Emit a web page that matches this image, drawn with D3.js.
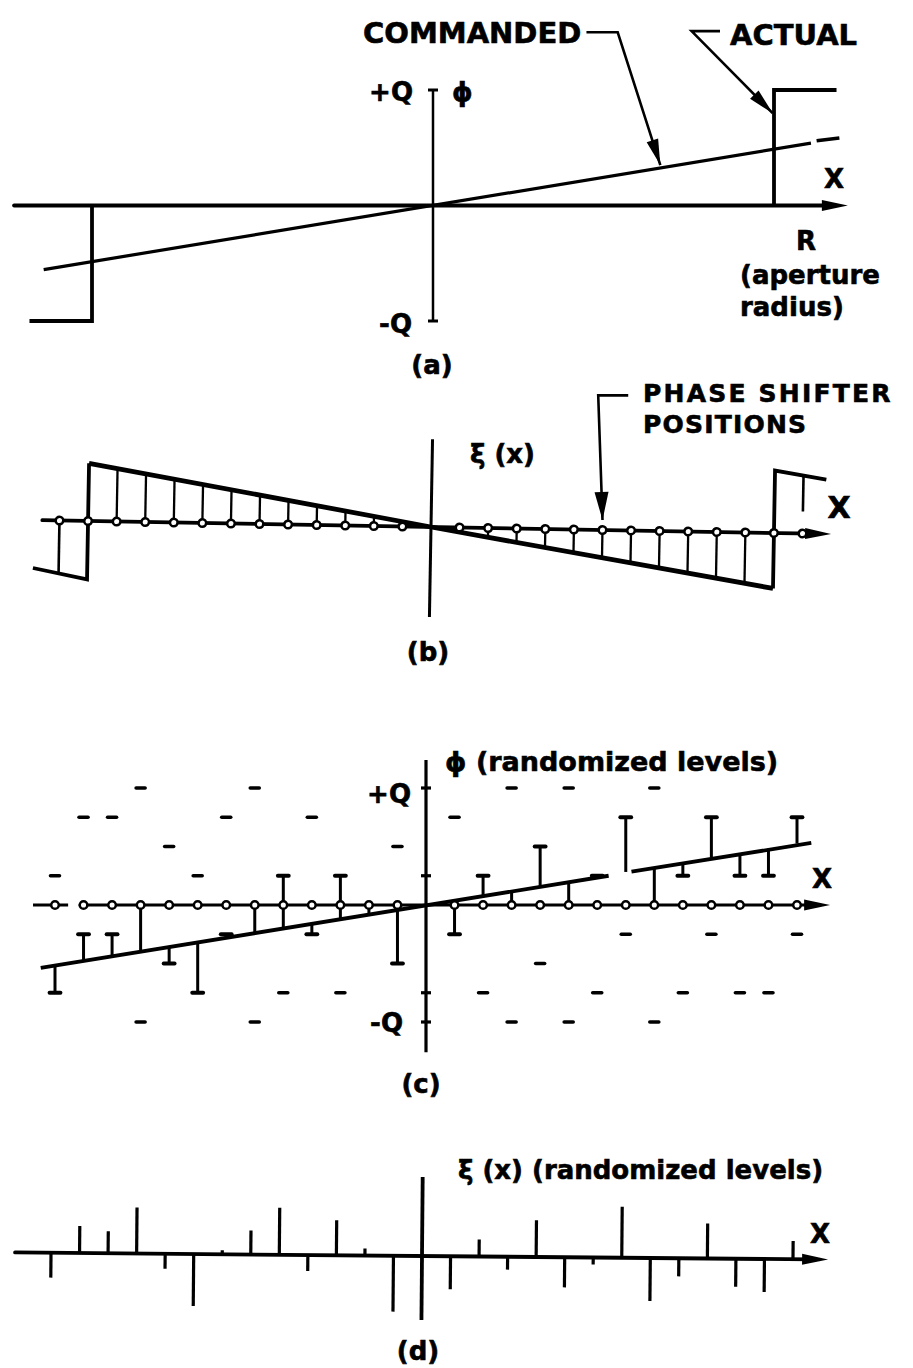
<!DOCTYPE html>
<html>
<head>
<meta charset="utf-8">
<script src="https://cdn.jsdelivr.net/npm/d3@7"></script>
<style>
  body { margin: 0; background: #fff; }
  text { font-family: "DejaVu Sans", sans-serif; font-weight: bold; fill: #000; stroke: #000; stroke-width: 0.6px; }
</style>
</head>
<body>
<div id="chart"></div>
<script>
const width = 913, height = 1368;

// element positions in units of element spacing (aperture radius R = 12)
const positions = [-13,-12,-11,-10,-9,-8,-7,-6,-5,-4,-3,-2,-1,1,2,3,4,5,6,7,8,9,10,11,12,13];

// (a) phase, units of Q
const axisA = [-14.74, 14.6];
const commandedA = [[-13.7, -0.555], [13.3, 0.54]];
const commandedTailA = [[13.5, 0.56], [14.3, 0.585]];
const actualLeftA = [[-14.2, -1], [-12, -1], [-12, 0]];
const actualRightA = [[12, 0], [12, 1], [14.2, 1]];
const commandedLeader = [[5.4, 1.5], [6.5, 1.5], [8.0, 0.35]];
const actualLeader = [[10.1, 1.51], [9.1, 1.51], [11.95, 0.8]];

// (b) xi(x) = actual - commanded, units of Q
const axisB = [-13.6, 14.0];
const errorLineB = [[-12, 0.5], [0, 0], [12, -0.48]];
const edgeLeftB = [[-13.9, -0.415], [-12, -0.505], [-12, 0.5]];
const edgeRightB = [[12, -0.48], [12, 0.54], [13.8, 0.47]];
const hatchPosB = [-11,-10,-9,-8,-7,-6,-5,-4,-3,-2,-1,1,2,3,4,5,6,7,8,9,10,11];
const hatchTopB = [0.45,0.41,0.37,0.33,0.29,0.25,0.2,0.16,0.12,0.08,0.04,
                   -0.04,-0.08,-0.12,-0.16,-0.2,-0.24,-0.28,-0.32,-0.36,-0.4,-0.44];
const edgeBarsB = [[-13, 0, -0.45], [13, 0.5, 0.19]];
const shifterLeader = [[6.9, 1.14], [5.85, 1.14], [6.0, 0.06]];

// (c) phase levels, units of Q/4
const axisC = [[-13.77, -12.54], [-12.12, 14.16]];
const commandedC = [[[-13.5, -2.15], [6.4, 1.0]], [[7.2, 1.14], [13.5, 2.12]]];
const commandedAtC = [-2.1,-1.93,-1.77,-1.62,-1.45,-1.3,-1.13,-0.97,-0.82,-0.65,-0.5,-0.33,-0.17,
                      0.17,0.33,0.5,0.65,0.82,0.97,1.13,1.3,1.45,1.62,1.77,1.93,2.1];
const levelsC = [-3,-1,-1,0,-2,-3,-1,0,1,-1,1,0,-2, -1,1,0,2,0,1,3,0,1,3,1,1,3];
const dashPosC = [-10,-6,-12,-11,-7,-4,-9,-1,-13,-8,1,-5,-3,-10,-6,
                  3,5,8,7,10,13,4,2,6,9,11,12,3,5,8];
const dashLevelC = [4,4,3,3,3,3,2,2,1,1,3,-3,-3,-4,-4,
                    4,4,4,-1,-1,-1,-2,-3,-3,-3,-3,-3,-4,-4,-4];
const tickLevelsC = [4, 1, -3, -4];

// (d) xi(x) after randomizing, units of Q/4
const axisD = [-14.26, 14.23];
const xiD = [-0.85,0.92,0.75,1.57,-0.51,-1.78,0.14,0.82,1.61,-0.55,1.2,0.24,-1.91,
             -1.13,0.58,-0.44,1.26,-1.03,-0.24,1.74,-1.47,-0.62,1.2,-0.96,-1.13,0.62];

const svg = d3.select("#chart").append("svg")
  .attr("width", width)
  .attr("height", height)
  .style("background", "#fff");

function arrowHead(g, from, tip, len, half) {
  const dx = tip[0] - from[0], dy = tip[1] - from[1], d = Math.hypot(dx, dy);
  const ux = dx / d, uy = dy / d;
  const bx = tip[0] - ux * len, by = tip[1] - uy * len;
  g.append("path")
    .attr("d", `M${tip[0]},${tip[1]}L${bx - uy * half},${by + ux * half}L${bx + uy * half},${by - ux * half}Z`)
    .attr("fill", "#000");
}

function hAxisArrow(g, x, y0, ext, sw) {
  const x0 = x(ext[0]), x1 = x(ext[1]);
  g.append("line").attr("x1", x0).attr("x2", x1 - 16).attr("y1", y0).attr("y2", y0)
    .attr("stroke", "#000").attr("stroke-width", sw).attr("stroke-linecap", "round");
  arrowHead(g, [x0, y0], [x1, y0], 26, 5.5);
}

function label(g, txt, x, y, size, anchor, extra) {
  const t = g.append("text").attr("x", x).attr("y", y)
    .attr("font-size", size).attr("text-anchor", anchor || "start").text(txt);
  if (extra) t.attr("letter-spacing", extra);
  return t;
}

/* ---------- (a) ---------- */
const xA = d3.scaleLinear().domain([0, 12]).range([433, 774]);
const yA = d3.scaleLinear().domain([-1, 1]).range([321, 90]);
const lineA = d3.line().x(d => xA(d[0])).y(d => yA(d[1]));
const gA = svg.append("g");

hAxisArrow(gA, xA, yA(0), axisA, 4);
gA.append("line").attr("x1", xA(0)).attr("x2", xA(0)).attr("y1", yA(1)).attr("y2", yA(-1))
  .attr("stroke", "#000").attr("stroke-width", 2.5);
gA.selectAll(".capA").data([1, -1]).join("line")
  .attr("x1", xA(0) - 5).attr("x2", xA(0) + 5)
  .attr("y1", d => yA(d)).attr("y2", d => yA(d))
  .attr("stroke", "#000").attr("stroke-width", 3);
[actualLeftA, actualRightA].forEach(p => {
  gA.append("path").attr("d", lineA(p)).attr("fill", "none")
    .attr("stroke", "#000").attr("stroke-width", 3.8).attr("stroke-linejoin", "miter");
});
gA.append("path").attr("d", lineA(commandedA)).attr("fill", "none").attr("stroke", "#000").attr("stroke-width", 3.2);
gA.append("path").attr("d", lineA(commandedTailA)).attr("fill", "none").attr("stroke", "#000").attr("stroke-width", 3.6);

[commandedLeader, actualLeader].forEach(p => {
  const pts = p.map(d => [xA(d[0]), yA(d[1])]);
  gA.append("path").attr("d", d3.line()(pts))
    .attr("fill", "none").attr("stroke", "#000").attr("stroke-width", 2.6);
  arrowHead(gA, pts[1], pts[2], 26, 6);
});

label(gA, "COMMANDED", 363, 43, 29);
label(gA, "ACTUAL", 730, 45, 29);
label(gA, "+Q", 413, 101, 26, "end");
label(gA, "ϕ", 452, 101, 26);
label(gA, "-Q", 412, 333, 26, "end");
label(gA, "X", 834, 188, 26, "middle");
label(gA, "R", 806, 250, 26, "middle");
label(gA, "(aperture", 740, 284, 26);
label(gA, "radius)", 740, 316, 26);
label(gA, "(a)", 432, 374, 26, "middle");

/* ---------- (b) ---------- */
const xB = d3.scaleLinear().domain([0, 12]).range([431, 774]);
const yB = d3.scaleLinear().domain([-1, 1]).range([527 + 115.5, 527 - 115.5]);
const lineB = d3.line().x(d => xB(d[0])).y(d => yB(d[1]));
const gB = svg.append("g").attr("transform", `rotate(1, ${xB(0)}, ${yB(0)})`);

hAxisArrow(gB, xB, yB(0), axisB, 3.8);
gB.append("line").attr("x1", xB(0)).attr("x2", xB(0)).attr("y1", yB(0.76)).attr("y2", yB(-0.78))
  .attr("stroke", "#000").attr("stroke-width", 3);
gB.selectAll(".hatchB").data(hatchPosB).join("line")
  .attr("x1", d => xB(d)).attr("x2", d => xB(d))
  .attr("y1", yB(0)).attr("y2", (d, i) => yB(hatchTopB[i]))
  .attr("stroke", "#000").attr("stroke-width", 2.3);
gB.selectAll(".edgeBarB").data(edgeBarsB).join("line")
  .attr("x1", d => xB(d[0])).attr("x2", d => xB(d[0]))
  .attr("y1", d => yB(d[1])).attr("y2", d => yB(d[2]))
  .attr("stroke", "#000").attr("stroke-width", 2.6);
gB.append("path").attr("d", lineB(errorLineB)).attr("fill", "none").attr("stroke", "#000").attr("stroke-width", 4.8);
[edgeLeftB, edgeRightB].forEach(p => {
  gB.append("path").attr("d", lineB(p)).attr("fill", "none")
    .attr("stroke", "#000").attr("stroke-width", 3.8);
});
gB.selectAll(".dotB").data(positions).join("circle")
  .attr("cx", d => xB(d)).attr("cy", yB(0)).attr("r", 3.8)
  .attr("fill", "#fff").attr("stroke", "#000").attr("stroke-width", 2.5);

const gBL = svg.append("g");
{
  const pts = shifterLeader.map(d => [xB(d[0]), yB(d[1])]);
  gBL.append("path").attr("d", d3.line()(pts)).attr("fill", "none").attr("stroke", "#000").attr("stroke-width", 2.6);
  arrowHead(gBL, pts[1], pts[2], 28, 7);
}
label(gBL, "PHASE SHIFTER", 643, 402, 25, "start", 2.2);
label(gBL, "POSITIONS", 643, 433, 25, "start", 1.2);
label(gBL, "ξ (x)", 470, 463, 26);
label(gBL, "X", 839, 518, 30, "middle");
label(gBL, "(b)", 428, 661, 26, "middle");

/* ---------- (c) ---------- */
const xC = d3.scaleLinear().domain([-13, 13]).range([55, 797]);
const yC = d3.scaleLinear().domain([-4, 4]).range([905 + 117, 905 - 117]);
const lineC = d3.line().x(d => xC(d[0])).y(d => yC(d[1]));
const gC = svg.append("g");

axisC.forEach((seg, i) => {
  if (i === axisC.length - 1) {
    hAxisArrow(gC, xC, yC(0), seg, 3.2);
  } else {
    gC.append("line").attr("x1", xC(seg[0])).attr("x2", xC(seg[1])).attr("y1", yC(0)).attr("y2", yC(0))
      .attr("stroke", "#000").attr("stroke-width", 3.2);
  }
});
gC.append("line").attr("x1", xC(0)).attr("x2", xC(0)).attr("y1", yC(4.96)).attr("y2", yC(-5.03))
  .attr("stroke", "#000").attr("stroke-width", 3.2);
gC.selectAll(".tickC").data(tickLevelsC).join("line")
  .attr("x1", xC(0) - 5).attr("x2", xC(0) + 5)
  .attr("y1", d => yC(d)).attr("y2", d => yC(d))
  .attr("stroke", "#000").attr("stroke-width", 3.2);

gC.selectAll(".dashC").data(dashPosC).join("line")
  .attr("x1", d => xC(d) - 4.5).attr("x2", d => xC(d) + 4.5)
  .attr("y1", (d, i) => yC(dashLevelC[i])).attr("y2", (d, i) => yC(dashLevelC[i]))
  .attr("stroke", "#000").attr("stroke-width", 3.6).attr("stroke-linecap", "round");

commandedC.forEach(seg => {
  gC.append("path").attr("d", lineC(seg)).attr("fill", "none").attr("stroke", "#000").attr("stroke-width", 3.8);
});

gC.selectAll(".barC").data(positions).join("line")
  .attr("x1", d => xC(d)).attr("x2", d => xC(d))
  .attr("y1", (d, i) => yC(commandedAtC[i])).attr("y2", (d, i) => yC(levelsC[i]))
  .attr("stroke", "#000").attr("stroke-width", 3);
gC.selectAll(".capC").data(positions.filter((d, i) => levelsC[i] !== 0)).join("line")
  .attr("x1", d => xC(d) - 5.5).attr("x2", d => xC(d) + 5.5)
  .attr("y1", d => yC(levelsC[positions.indexOf(d)])).attr("y2", d => yC(levelsC[positions.indexOf(d)]))
  .attr("stroke", "#000").attr("stroke-width", 3.8).attr("stroke-linecap", "round");
gC.selectAll(".dotC").data(positions).join("circle")
  .attr("cx", d => xC(d)).attr("cy", yC(0)).attr("r", 3.8)
  .attr("fill", "#fff").attr("stroke", "#000").attr("stroke-width", 2.5);

label(gC, "ϕ (randomized levels)", 445, 771, 27);
label(gC, "+Q", 411, 803, 26, "end");
label(gC, "-Q", 403, 1032, 26, "end");
label(gC, "X", 822, 888, 26, "middle");
label(gC, "(c)", 421, 1093, 26, "middle");

/* ---------- (d) ---------- */
const xD = d3.scaleLinear().domain([-13, 13]).range([51, 793]);
const yD = d3.scaleLinear().domain([-4, 4]).range([1256 + 117, 1256 - 117]);
const gD = svg.append("g").attr("transform", `rotate(0.5, ${xD(0)}, ${yD(0)})`);

hAxisArrow(gD, xD, yD(0), axisD, 3.8);
gD.append("line").attr("x1", xD(0)).attr("x2", xD(0)).attr("y1", yD(2.7)).attr("y2", yD(-2.19))
  .attr("stroke", "#000").attr("stroke-width", 3.8);
gD.selectAll(".spikeD").data(positions).join("line")
  .attr("x1", d => xD(d)).attr("x2", d => xD(d))
  .attr("y1", yD(0)).attr("y2", (d, i) => yD(xiD[i]))
  .attr("stroke", "#000").attr("stroke-width", 3.2);

const gDL = svg.append("g");
label(gDL, "ξ (x) (randomized levels)", 458, 1179, 26);
label(gDL, "X", 820, 1243, 26, "middle");
label(gDL, "(d)", 418, 1360, 26, "middle");
</script>
</body>
</html>
